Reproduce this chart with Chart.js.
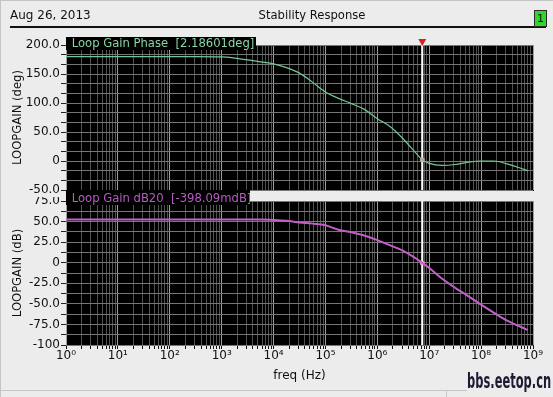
<!DOCTYPE html>
<html><head><meta charset="utf-8">
<script src="https://cdn.jsdelivr.net/npm/chart.js@4.4.0/dist/chart.umd.min.js"></script>
<style>
html,body{margin:0;padding:0;background:#ececec;width:553px;height:397px;overflow:hidden;font-family:"DejaVu Sans",sans-serif;}
.a{position:absolute;}
#w1{left:0;top:0;width:553px;height:197px;}
#w2{left:0;top:197px;width:553px;height:200px;}
#date{left:10px;top:8px;font-size:12px;line-height:14px;color:#111;white-space:pre;}
#title{left:312px;top:8px;font-size:11.6px;line-height:14px;color:#111;transform:translateX(-50%);white-space:pre;}
#hline{left:10px;top:26px;width:536px;height:2px;background:#111;}
#gbox{left:534px;top:10px;width:11px;height:15px;background:#2fd62f;border:1px solid #2a2a2a;font-size:11px;line-height:15px;text-align:center;color:#111;}
#gap{left:66px;top:191px;width:470px;height:9px;background:#ececec;}
#lg1{left:66px;top:37px;width:190px;height:13px;background:#000;color:#8ad4a8;font-size:11.6px;line-height:13px;padding-left:5.7px;box-sizing:border-box;white-space:pre;overflow:hidden;}
#lg2{left:66px;top:190px;width:184px;height:15px;background:#000;color:#b65cc2;font-size:11.6px;line-height:13px;padding-left:5.7px;padding-top:2px;box-sizing:border-box;white-space:pre;overflow:hidden;}
#wm{right:2px;top:370px;font-family:"Liberation Sans Narrow","DejaVu Sans Condensed",sans-serif;font-weight:bold;font-size:17px;line-height:17px;color:#1f1a33;transform:scale(0.75,1.28);transform-origin:top right;white-space:pre;}
#sline{left:0;top:390px;width:467px;height:1px;background:#c6c6c6;}
#svl{left:446px;top:390px;width:1px;height:7px;background:#c6c6c6;}
#tline{left:0;top:0;width:553px;height:1px;background:#c4c4c4;}
#lline{left:0;top:0;width:1px;height:397px;background:#c4c4c4;}
</style></head><body>
<div class="a" id="w1"><canvas id="c1" width="553" height="197"></canvas></div>
<div class="a" id="w2"><canvas id="c2" width="553" height="200"></canvas></div>
<div class="a" id="gap"></div>
<div class="a" id="tline"></div><div class="a" id="lline"></div>
<div class="a" id="date">Aug 26, 2013</div>
<div class="a" id="title">Stability Response</div>
<div class="a" id="hline"></div>
<div class="a" id="gbox">1</div>
<div class="a" id="lg1">Loop Gain Phase  [2.18601deg]</div>
<div class="a" id="lg2">Loop Gain dB20  [-398.09mdB]</div>
<div class="a" id="sline"></div><div class="a" id="svl"></div>
<div class="a" id="wm">bbs.eetop.cn</div>
<script>
// ---- data ----
const freqHz = [1, 10, 100, 316, 1000, 1778, 3162, 5623, 1e4, 1.778e4, 3.162e4, 5.623e4, 1e5, 1.778e5, 3.162e5, 5.623e5, 1e6, 1.778e6, 3.162e6, 5.623e6, 7.35e6, 1e7, 1.778e7, 3.162e7, 5.623e7, 1e8, 1.778e8, 3.162e8, 5.623e8, 7.94e8];
const phaseDeg = [180, 180, 180, 180, 179.5, 177.5, 174.5, 171, 167.5, 161, 151.5, 136, 119, 108, 99, 89, 73, 59, 38, 13, 2.186, -4, -7.5, -6, -2, 0, 0, -5, -12, -17];
const gainDb = [52.5, 52.5, 52.5, 52.5, 52.5, 52.5, 52.5, 52.5, 52, 51, 49, 47.5, 45.5, 40, 37, 33, 27.5, 21, 14.5, 5, -0.398, -6.5, -19.5, -30.5, -40.5, -51, -61, -70.5, -77.5, -82];
const markerFreq = 7.35e6;
const markerPhase = 2.18601;
const markerGain = -0.39809;
const phaseTicks = [-50, 0, 50, 100, 150, 200];
const phaseTickLabels = ['-50.0', '0', '50.0', '100.0', '150.0', '200.0'];
const gainTicks = [-100, -75, -50, -25, 0, 25, 50, 75];
const gainTickLabels = ['-100', '-75.0', '-50.0', '-25.0', '0', '25.0', '50.0', '75.0'];
const decades = [1, 10, 100, 1e3, 1e4, 1e5, 1e6, 1e7, 1e8, 1e9];
const decadeLabels = ['10\u2070', '10\u00B9', '10\u00B2', '10\u00B3', '10\u2074', '10\u2075', '10\u2076', '10\u2077', '10\u2078', '10\u2079'];

// ---- grid helpers ----
function withMinors(majors, parts) {
  const out = [];
  for (let i = 0; i < majors.length - 1; i++)
    for (let k = 0; k < parts; k++) out.push(majors[i] + (majors[i + 1] - majors[i]) * k / parts);
  out.push(majors[majors.length - 1]);
  return out;
}
const xGrid = [];
for (let d = 0; d < decades.length - 1; d++) for (let m = 1; m < 10; m++) xGrid.push(m * decades[d]);
xGrid.push(decades[decades.length - 1]);

const FONT = 'DejaVu Sans';
const H_GRID = '#767676', V_MINOR = '#525252', V_MAJOR = '#9e9e9e';

const blackBg = {
  id: 'blackBg',
  beforeDraw(chart) {
    const {ctx, chartArea: a} = chart;
    ctx.save(); ctx.fillStyle = '#000';
    ctx.fillRect(a.left, a.top, a.right - a.left + 1, a.bottom - a.top + 1);
    ctx.restore();
  }
};
function markerPlugin(withTriangle) {
  return {
    id: 'marker',
    beforeDatasetsDraw(chart) {
      const {ctx, chartArea: a} = chart;
      const x = chart.scales.x.getPixelForValue(markerFreq);
      ctx.save();
      ctx.strokeStyle = '#ffffff'; ctx.lineWidth = 2;
      ctx.beginPath(); ctx.moveTo(x, a.top); ctx.lineTo(x, a.bottom); ctx.stroke();
      if (withTriangle) {
        ctx.fillStyle = '#d42222';
        ctx.beginPath(); ctx.moveTo(x - 4, a.top - 6); ctx.lineTo(x + 4, a.top - 6); ctx.lineTo(x, a.top + 1); ctx.closePath(); ctx.fill();
      }
      ctx.restore();
    }
  };
}
function xScale(bottom) {
  const s = {
    type: 'logarithmic', min: 1, max: 1e9,
    afterBuildTicks: sc => { sc.ticks = xGrid.map(v => ({value: v})); },
    grid: {color: c => decades.includes(c.tick.value) ? V_MAJOR : V_MINOR, lineWidth: 1,
           drawTicks: bottom, tickLength: 4, tickColor: '#111'},
    border: {display: false},
    ticks: {display: bottom, autoSkip: false, maxRotation: 0, minRotation: 0, padding: 0,
            font: {family: FONT, size: 12}, color: '#111',
            callback: v => { const i = decades.indexOf(v); return i >= 0 ? decadeLabels[i] : ''; }},
    afterFit: sc => { sc.height = bottom ? 52 : 7; sc.paddingLeft = 0; sc.paddingRight = 0; }
  };
  if (bottom) s.title = {display: true, text: 'freq (Hz)', color: '#111', font: {family: FONT, size: 12}, padding: {top: 0, bottom: 13.5}};
  return s;
}
function yScale(min, max, majors, labels, parts, title) {
  return {
    min, max,
    afterBuildTicks: sc => { sc.ticks = withMinors(majors, parts).map(v => ({value: v})); },
    grid: {color: H_GRID, lineWidth: 1, drawTicks: true, tickLength: 5, tickColor: '#222'},
    border: {display: false},
    ticks: {autoSkip: false, padding: 1, font: {family: FONT, size: 12}, color: '#111',
            callback: v => { const i = majors.indexOf(v); return i >= 0 ? labels[i] : ''; }},
    title: {display: true, text: title, color: '#111', font: {family: FONT, size: 11.6}, padding: {top: 11, bottom: 0}},
    afterFit: sc => { sc.width = 66; sc.paddingTop = 0; sc.paddingBottom = 0; }
  };
}
const common = {
  responsive: false, animation: false, devicePixelRatio: 1, events: [],
  plugins: {legend: {display: false}, tooltip: {enabled: false}},
  elements: {point: {radius: 0}}
};

new Chart(document.getElementById('c1'), {
  type: 'line',
  data: {datasets: [
    {data: freqHz.map((f, i) => ({x: f, y: phaseDeg[i]})), borderColor: '#74c896', borderWidth: 1.2, cubicInterpolationMode: 'monotone', pointRadius: 0},
    {data: [{x: markerFreq, y: markerPhase}], showLine: false, pointRadius: 2.5, pointBackgroundColor: 'rgba(235,160,170,0.9)', pointBorderWidth: 0}
  ]},
  options: Object.assign({}, common, {
    layout: {padding: {top: 45, right: 20, left: 0, bottom: 0}},
    scales: {x: xScale(false), y: yScale(-50, 200, phaseTicks, phaseTickLabels, 3, 'LOOPGAIN (deg)')}
  }),
  plugins: [blackBg, markerPlugin(true)]
});

new Chart(document.getElementById('c2'), {
  type: 'line',
  data: {datasets: [
    {data: freqHz.map((f, i) => ({x: f, y: gainDb[i]})), borderColor: '#c260c8', borderWidth: 2, cubicInterpolationMode: 'monotone', pointRadius: 0},
    {data: [{x: markerFreq, y: markerGain}], showLine: false, pointRadius: 2.5, pointBackgroundColor: 'rgba(235,170,200,0.9)', pointBorderWidth: 0}
  ]},
  options: Object.assign({}, common, {
    layout: {padding: {top: 3, right: 20, left: 0, bottom: 0}},
    scales: {x: xScale(true), y: yScale(-100, 75, gainTicks, gainTickLabels, 2, 'LOOPGAIN (dB)')}
  }),
  plugins: [blackBg, markerPlugin(false)]
});
</script>
</body></html>
